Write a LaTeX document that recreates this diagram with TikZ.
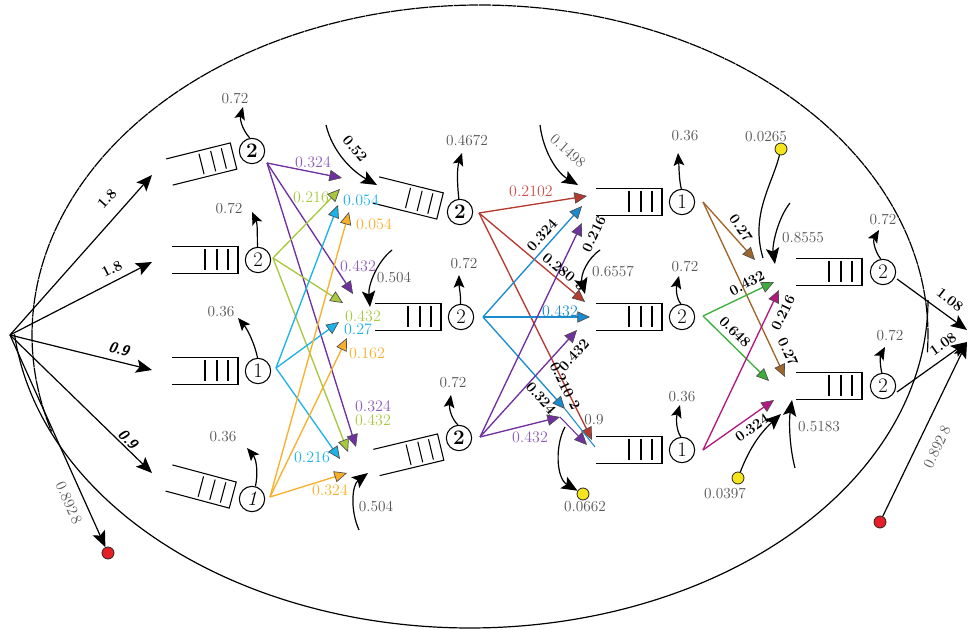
\documentclass[tikz,border=0pt]{standalone}
\usepackage{fontspec}
\usetikzlibrary{arrows.meta}
\definecolor{cpurple}{HTML}{7030A0}
\definecolor{cpurpleT}{HTML}{8E5CB8}
\definecolor{cygreen}{HTML}{A8C83E}
\definecolor{ccyan}{HTML}{1DB3E8}
\definecolor{corange}{HTML}{F8B02B}
\definecolor{cred}{HTML}{B63A2F}
\definecolor{credT}{HTML}{C9504A}
\definecolor{cblue}{HTML}{1A8BCF}
\definecolor{cbrown}{HTML}{A0652A}
\definecolor{cgreen}{HTML}{3DAE3B}
\definecolor{cmag}{HTML}{B2197F}
\definecolor{cgray}{HTML}{555555}
\definecolor{cyel}{HTML}{F6E41C}
\definecolor{cdot}{HTML}{E61E25}
\newcommand{\queueat}[2]{%
  \begin{scope}[shift={#1}, rotate=#2, line width=0.8pt]
    \draw (0,-13.5) -- (66,-13.5) -- (66,13.5) -- (0,13.5);
    \draw (33,-10.5) -- (33,10.5) (45,-10.5) -- (45,10.5) (56,-10.5) -- (56,10.5);
  \end{scope}}
\begin{document}
\begin{tikzpicture}[x=0.75pt,y=-0.75pt,
  lbl/.style={font=\fontsize{11.5}{13}\selectfont, text=cgray, inner sep=1pt},
  clbl/.style={font=\fontsize{12}{13}\selectfont, text=#1, inner sep=1pt},
  blbl/.style={font=\fontsize{11}{13}\selectfont\bfseries, text=black, inner sep=1pt},
  srv/.style={circle, draw, line width=0.8pt, minimum size=19pt, inner sep=0pt, font=\fontsize{15.5}{15.5}\selectfont},
  flow/.style={line width=0.9pt, -{Stealth[length=12pt,width=10pt,inset=2.5pt]}},
  dep/.style={line width=0.9pt, -{Stealth[length=9.5pt,width=8pt,inset=2pt]}},
  carr/.style={line width=1pt, draw=#1, -{Triangle[length=9.5pt,width=8.5pt,color=black!70,fill=#1,line width=0.5pt]}},
  dotn/.style={circle, draw=black!85, line width=0.6pt, fill=#1, minimum size=9pt, inner sep=0pt}
]
\useasboundingbox (0,0) rectangle (968,630);

% outer curves
\draw[line width=0.9pt, dash pattern=on 9pt off 0.5pt] plot[domain=-3:197, samples=160, smooth] ({480+448*cos(\x)},{335-330*sin(\x)});
\draw[line width=0.9pt] plot[domain=0:174, samples=160, smooth] ({470+458*cos(\x)},{300+328*sin(\x)});

% queues
\queueat{(169.5,172)}{14}
\queueat{(172,260)}{0}
\queueat{(172,371)}{0}
\queueat{(169,478)}{-15}
\queueat{(376,190)}{-14}
\queueat{(375,317)}{0}
\queueat{(376.5,462.5)}{13.5}
\queueat{(596,202)}{0}
\queueat{(596,317)}{0}
\queueat{(596,450)}{0}
\queueat{(796,272)}{0}
\queueat{(796,386)}{0}

% servers
\node[srv, font=\fontsize{15.5}{15.5}\selectfont\bfseries] (s1a) at (252,151) {2};
\node[srv] (s1b) at (258,260) {2};
\node[srv] (s1c) at (258,371) {1};
\node[srv, font=\fontsize{15.5}{15.5}\selectfont\itshape] (s1d) at (252,499) {1};
\node[srv, font=\fontsize{15.5}{15.5}\selectfont\bfseries] (s2a) at (460,212) {2};
\node[srv] (s2b) at (461,317) {2};
\node[srv, font=\fontsize{15.5}{15.5}\selectfont\bfseries] (s2c) at (459,438) {2};
\node[srv] (s3a) at (682,202) {1};
\node[srv] (s3b) at (682,317) {2};
\node[srv] (s3c) at (682,450) {1};
\node[srv] (s4a) at (883,272) {2};
\node[srv] (s4b) at (883,386) {2};

% source, sinks, dots
\coordinate (src) at (10,335);
\coordinate (snk1) at (967,330);
\coordinate (snk2) at (967,342);
\node[dotn=cdot] (rd1) at (108,553) {};
\node[dotn=cdot] (rd2) at (880,522) {};
\node[dotn=cyel] (yd1) at (583,494) {};
\node[dotn=cyel] (yd2) at (781,149) {};
\node[dotn=cyel] (yd3) at (738,478) {};

% source arrows
\coordinate (e1) at (152,175);
\coordinate (e2) at (152,262);
\coordinate (e3) at (152,370);
\coordinate (e4) at (152,473);
\draw[flow] (src) -- (e1);
\draw[flow] (src) -- (e2);
\draw[flow] (src) -- (e3);
\draw[flow] (src) -- (e4);
\draw[flow] (src) -- (rd1);
\node[blbl, rotate=48] (ta1) at (107,199) {1.8};
\node[blbl, rotate=27] (ta2) at (112,269) {1.8};
\node[blbl, rotate=-14, font=\fontsize{11}{13}\selectfont\sffamily\bfseries\itshape] (ta3) at (119,349) {0.9};
\node[blbl, rotate=-44, font=\fontsize{11}{13}\selectfont\sffamily\bfseries\itshape] (ta4) at (128,439) {0.9};
\node[lbl, rotate=-66] (ta5) at (69,503) {0.892\,8};

% sink arrows
\coordinate (o4a) at (897,279);
\coordinate (o4b) at (897,392);
\draw[flow] (o4a) -- (snk1);
\draw[flow] (o4b) -- (snk2);
\draw[flow] (rd2) -- (snk2);
\node[blbl, rotate=-38] (tz1) at (950,300) {1.08};
\node[blbl, rotate=35.5] (tz2) at (943,344) {1.08};
\node[lbl, rotate=64.5] (tz3) at (937,447) {0.892\,8};

% departures
\coordinate (d1a) at (243,107);
\coordinate (d1b) at (252,212);
\coordinate (d1c) at (238,318);
\coordinate (d1d) at (247,448);
\coordinate (d2a) at (462,153);
\coordinate (d2b) at (459,275);
\coordinate (d2c) at (451,395);
\coordinate (d3a) at (678,153);
\coordinate (d3b) at (679,276);
\coordinate (d3c) at (680,405);
\coordinate (d4a) at (879,230);
\coordinate (d4b) at (885,347);
\draw[dep] (s1a.100) .. controls (241,128) and (240,118) .. (d1a);
\draw[dep] (s1b.92) .. controls (257,237) and (258,225) .. (d1b);
\draw[dep] (s1c.92) .. controls (255,345) and (248,330) .. (d1c);
\draw[dep] (s1d.75) .. controls (258,475) and (257,460) .. (d1d);
\draw[dep] (s2a.95) .. controls (457,182) and (457,168) .. (d2a);
\draw[dep] (s2b.92) .. controls (461,296) and (459,286) .. (d2b);
\draw[dep] (s2c.95) .. controls (451,418) and (449,408) .. (d2c);
\draw[dep] (s3a.93) .. controls (679,180) and (679,166) .. (d3a);
\draw[dep] (s3b.95) .. controls (676,298) and (676,288) .. (d3b);
\draw[dep] (s3c.95) .. controls (676,430) and (676,418) .. (d3c);
\draw[dep] (s4a.100) .. controls (874,250) and (873,240) .. (d4a);
\draw[dep] (s4b.95) .. controls (880,366) and (880,356) .. (d4b);
\node[lbl] (td1a) at (235,98) {0.72};
\node[lbl] (td1b) at (229,208) {0.72};
\node[lbl] (td1c) at (221,312) {0.36};
\node[lbl] (td1d) at (223,437) {0.36};
\node[lbl] (td2a) at (467,140) {0.4672};
\node[lbl] (td2b) at (464,263) {0.72};
\node[lbl] (td2c) at (453,382) {0.72};
\node[lbl] (td3a) at (685,136) {0.36};
\node[lbl] (td3b) at (685,266) {0.72};
\node[lbl] (td3c) at (682,397) {0.36};
\node[lbl] (td4a) at (883,219) {0.72};
\node[lbl] (td4b) at (890,335) {0.72};

% external inflows / outflows
\coordinate (a1s) at (326,125);  \coordinate (a1e) at (377,185);
\coordinate (a2s) at (392,250);  \coordinate (a2e) at (370,307);
\coordinate (a3s) at (359,530);  \coordinate (a3e) at (368,473);
\coordinate (a4s) at (540,125);  \coordinate (a4e) at (578,185);
\coordinate (a5s) at (600,250);  \coordinate (a5e) at (585,294);
\coordinate (a6s) at (565,427);
\coordinate (a7e) at (763,258);
\coordinate (a8s) at (790,203);  \coordinate (a8e) at (775,264);
\coordinate (a9s) at (795,468);  \coordinate (a9e) at (792,400);
\coordinate (a10e) at (781,414);
\draw[flow] (a1s) .. controls (332,150) and (350,170) .. (a1e);
\draw[flow] (a2s) .. controls (377,262) and (368,285) .. (a2e);
\draw[flow] (a3s) .. controls (350,510) and (352,485) .. (a3e);
\draw[flow] (a4s) .. controls (543,150) and (556,172) .. (a4e);
\draw[flow] (a5s) .. controls (588,258) and (580,275) .. (a5e);
\draw[flow] (a6s) .. controls (555,445) and (556,478) .. (yd1);
\draw[line width=0.9pt] (yd2) .. controls (772,185) and (750,215) .. (a7e);
\draw[flow] (a8s) .. controls (778,218) and (772,245) .. (a8e);
\draw[flow] (a9s) .. controls (789,445) and (789,420) .. (a9e);
\draw[flow] (yd3) .. controls (748,452) and (758,435) .. (a10e);
\node[blbl, rotate=-50] (tb1) at (355,149) {0.52};
\node[lbl] (tb2) at (394,277) {0.504};
\node[lbl] (tb3) at (376,506) {0.504};
\node[lbl, rotate=-42] (tb4) at (568,151) {0.1498};
\node[lbl] (tb5) at (613,271) {0.6557};
\node[lbl] (tb6) at (585,507) {0.0662};
\node[lbl] (tb7) at (766,137) {0.0265};
\node[lbl] (tb8) at (803,238) {0.8555};
\node[lbl] (tb9) at (819,427) {0.5183};
\node[lbl] (tb10) at (725,493) {0.0397};
\node[lbl] (tb11) at (594,420) {0.9};

% stage 1 -> stage 2
\coordinate (o1a) at (267,163);
\coordinate (o1b) at (273,258);
\coordinate (o1c) at (276,368);
\coordinate (o1d) at (270,497);
\coordinate (p1) at (342,178);  \coordinate (p2) at (353,294);  \coordinate (p3) at (356,447);
\coordinate (g1) at (340,189);  \coordinate (g2) at (343,303);  \coordinate (g3) at (348,452);
\coordinate (c1) at (338,205);  \coordinate (c2) at (339,322);  \coordinate (c3) at (340,459);
\coordinate (r1) at (349,212);  \coordinate (r2) at (347,338);  \coordinate (r3) at (347,473);
\draw[carr=cpurple] (o1a) -- (p1);
\draw[carr=cpurple] (o1a) -- (p2);
\draw[carr=cpurple] (o1a) -- (p3);
\draw[carr=cygreen] (o1b) -- (g1);
\draw[carr=cygreen] (o1b) -- (g2);
\draw[carr=cygreen] (o1b) -- (g3);
\draw[carr=ccyan] (o1c) -- (c1);
\draw[carr=ccyan] (o1c) -- (c2);
\draw[carr=ccyan] (o1c) -- (c3);
\draw[carr=corange] (o1d) -- (r1);
\draw[carr=corange] (o1d) -- (r2);
\draw[carr=corange] (o1d) -- (r3);
\node[clbl=cpurpleT] (tc1) at (313,162) {0.324};
\node[clbl=cpurpleT] (tc2) at (358,266) {0.432};
\node[clbl=cpurpleT] (tc3) at (373,406) {0.324};
\node[clbl=cygreen] (tc4) at (311,197) {0.216};
\node[clbl=cygreen] (tc5) at (363,316) {0.432};
\node[clbl=cygreen] (tc6) at (373,420) {0.432};
\node[clbl=ccyan] (tc7) at (361,200) {0.054};
\node[clbl=ccyan] (tc8) at (358,329) {0.27};
\node[clbl=ccyan] (tc9) at (312,457) {0.216};
\node[clbl=corange] (tc10) at (374,224) {0.054};
\node[clbl=corange] (tc11) at (367,353) {0.162};
\node[clbl=corange] (tc12) at (330,490) {0.324};

% stage 2 -> stage 3
\coordinate (o2a) at (479,213);
\coordinate (o2b) at (483,317);
\coordinate (o2c) at (480,437);
\coordinate (rr1) at (587,196); \coordinate (rr2) at (585,302); \coordinate (rr3) at (592,440);
\coordinate (bb1) at (582,206); \coordinate (bb2) at (590,317); \coordinate (bb3) at (565,409);
\coordinate (pp1) at (582,223); \coordinate (pp2) at (577,330); \coordinate (pp3) at (560,417);
\coordinate (qin1) at (595,447); \coordinate (qin2) at (587,445);
\draw[carr=cred] (o2a) -- (rr1);
\draw[carr=cred] (o2a) -- (rr2);
\draw[carr=cred] (o2a) -- (rr3);
\draw[carr=cblue] (o2b) -- (bb1);
\draw[carr=cblue] (o2b) -- (bb2);
\draw[carr=cblue] (o2b) -- (bb3);
\draw[line width=0.8pt, cblue] (bb3) -- (qin1);
\draw[carr=cpurple] (o2c) -- (pp1);
\draw[carr=cpurple] (o2c) -- (pp2);
\draw[carr=cpurple] (o2c) -- (pp3);
\draw[carr=cpurple, line width=0.8pt] (pp3) -- (qin2);
\node[clbl=credT] (te1) at (531,191) {0.2102};
\node[blbl, rotate=48] (te2) at (542,235) {0.324};
\node[blbl, rotate=-40] (te3) at (564,272) {0.280~3};
\node[blbl, rotate=64.6] (te4) at (594,234) {0.216};
\node[clbl=cblue] (te5) at (560,311) {0.432};
\node[blbl, rotate=47.5] (te6) at (574,355) {0.432};
\node[blbl, rotate=-63.5] (te7) at (565,386) {0.210~2};
\node[blbl, rotate=-48.6] (te8) at (541,398) {0.324};
\node[clbl=cpurpleT] (te9) at (530,437) {0.432};

% stage 3 -> stage 4
\coordinate (o3a) at (703,202);
\coordinate (o3b) at (703,316);
\coordinate (o3c) at (703,450);
\coordinate (w1) at (755,260); \coordinate (w2) at (785,377);
\coordinate (v1) at (774,282); \coordinate (v2) at (769,381);
\coordinate (m1) at (779,290); \coordinate (m2) at (774,400);
\draw[carr=cbrown] (o3a) -- (w1);
\draw[carr=cbrown] (o3a) -- (w2);
\draw[carr=cgreen] (o3b) -- (v1);
\draw[carr=cgreen] (o3b) -- (v2);
\draw[carr=cmag] (o3c) -- (m1);
\draw[carr=cmag] (o3c) -- (m2);
\node[blbl, rotate=-55] (tf1) at (741,228) {0.27};
\node[blbl, rotate=-65] (tf2) at (788,352) {0.27};
\node[blbl, rotate=28] (tf3) at (747,283) {0.432};
\node[blbl, rotate=-45] (tf4) at (735,332) {0.648};
\node[blbl, rotate=64] (tf5) at (783,313) {0.216};
\node[blbl, rotate=35] (tf6) at (752,428) {0.324};
\end{tikzpicture}
\end{document}
